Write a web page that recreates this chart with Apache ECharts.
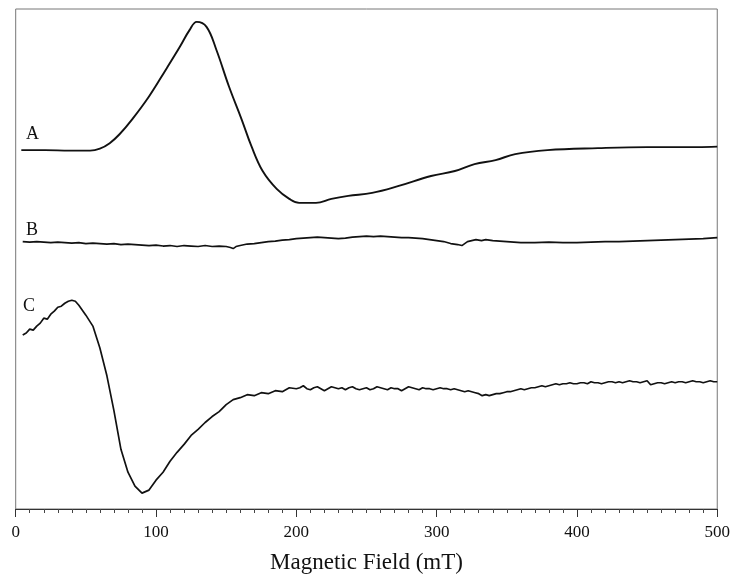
<!DOCTYPE html>
<html>
<head>
<meta charset="utf-8">
<script src="https://cdn.jsdelivr.net/npm/echarts@6/dist/echarts.min.js"></script>
<style>
  html, body { margin: 0; padding: 0; background: #fff; }
  #chart { width: 733px; height: 579px; }
</style>
</head>
<body>
<div id="chart"></div>
<script>
// magnetic field ticks (mT)
const fieldTicks = [0, 100, 200, 300, 400, 500];

// trace A
const aField = [4, 21, 38.5, 53, 60, 67, 74, 83, 95, 107, 117, 124, 129, 136, 143, 152, 161, 168, 176, 186,
  195, 202, 214, 225, 237, 254, 273, 296, 313, 327, 342, 356, 379, 415, 450, 486, 500];
const aSignal = [361, 361, 360.5, 360.5, 362.5, 368, 377, 392, 415, 442, 465, 482, 490, 485, 462, 425, 392, 365, 340, 322,
  312, 308, 308, 312, 315, 318, 325, 335, 340, 347, 351, 357, 361, 363, 364, 364, 364.5];

// trace B
const bField = [5, 10, 15, 20, 25, 30, 35, 40, 45, 50, 55, 60, 65, 70, 75, 80, 85, 90, 95, 100,
  105, 110, 115, 120, 125, 130, 135, 140, 145, 150, 153, 155, 157, 160, 165, 170, 175, 180, 185, 190,
  195, 200, 205, 210, 215, 220, 225, 230, 235, 240, 245, 250, 255, 260, 265, 270, 275, 280, 285, 290,
  295, 300, 305, 310, 315, 318, 320, 322, 325, 328, 332, 335, 340, 345, 350, 355, 360, 370, 380, 390,
  400, 410, 420, 430, 440, 450, 460, 470, 480, 490, 500];
const bSignal = [269, 268.5, 269, 268.5, 268, 268.5, 268, 267.5, 268, 267, 267.5, 267, 266.5, 267, 266, 266.5, 266, 265.5, 265, 265.5,
  264.5, 265, 264, 265, 264.5, 264, 265, 264, 264.5, 264, 263, 262, 264, 265, 266.5, 267, 268, 269, 269.5, 270.5,
  271, 272, 272.5, 273, 273.5, 273, 272.5, 272, 272.5, 273.5, 274, 274.5, 274, 274.5, 274, 273.5, 273, 273, 272.5, 272,
  271, 270, 269, 267, 266, 265, 267, 269, 270, 271, 270, 271, 270, 269.5, 269, 268.5, 268, 268, 268.5, 268,
  268, 268.5, 269, 269, 269.5, 270, 270.5, 271, 271.5, 272, 273];

// trace C
const cField = [5, 7.5, 10, 12.5, 15, 17.5, 20, 22.5, 25, 27.5, 30, 32.5, 35, 37.5, 40, 42.5, 45, 50, 55, 60,
  65, 70, 75, 80, 85, 90, 95, 100, 105, 110, 115, 120, 125, 130, 135, 140, 145, 150, 155, 160,
  165, 170, 175, 180, 185, 190, 195,
  200, 202.5, 205, 207.5, 210, 212.5, 215, 217.5, 220, 222.5, 225, 227.5, 230, 232.5, 235, 237.5, 240, 242.5, 245, 247.5,
  250, 252.5, 255, 257.5, 260, 262.5, 265, 267.5, 270, 272.5, 275, 277.5, 280, 282.5, 285, 287.5, 290, 292.5, 295, 297.5,
  300, 302.5, 305, 307.5, 310, 312.5, 315, 317.5, 320, 322.5, 325, 327.5, 330, 332.5, 335, 337.5, 340, 342.5, 345, 347.5,
  350, 352.5, 355, 357.5, 360, 362.5, 365, 367.5, 370, 372.5, 375, 377.5, 380, 382.5, 385, 387.5, 390, 392.5, 395, 397.5,
  400, 402.5, 405, 407.5, 410, 412.5, 415, 417.5, 420, 422.5, 425, 427.5, 430, 432.5, 435, 437.5, 440, 442.5, 445, 447.5,
  450, 452.5, 455, 457.5, 460, 462.5, 465, 467.5, 470, 472.5, 475, 477.5, 480, 482.5, 485, 487.5, 490, 492.5, 495, 497.5, 500];
const cSignal = [175, 177, 181, 180, 184, 187, 192, 191, 196, 199, 203, 204, 207, 209, 210, 209, 205, 195, 184, 162,
  134, 99, 60, 37, 23, 16, 19, 29, 37, 48, 57, 65, 74, 80, 87, 93, 98, 105, 110, 112,
  115, 114, 117, 116, 119, 118, 122,
  121, 122, 124, 121, 120, 122, 123, 121, 119, 121, 123, 122, 121, 122, 120, 122, 123, 121, 120, 121,
  122, 120, 121, 123, 122, 121, 120, 122, 121, 121, 119, 121, 123, 122, 121, 120, 122, 121, 121, 120,
  121, 122, 121, 121, 120, 121, 120, 119, 118, 119, 118, 117, 116, 114, 115, 114, 115, 116, 116, 117,
  118, 118, 119, 120, 121, 120, 121, 122, 122, 123, 124, 123, 124, 125, 126, 125, 126, 126, 127, 126,
  126, 127, 127, 126, 128, 127, 127, 126, 127, 128, 128, 127, 128, 127, 128, 129, 128, 128, 127, 128,
  129, 125, 126, 127, 127, 126, 127, 128, 127, 128, 128, 127, 128, 129, 128, 128, 127, 128, 129, 128, 128];

const pairs = (xs, ys) => xs.map((x, i) => [x, ys[i]]);

const chart = echarts.init(document.getElementById('chart'));
const serif = '"Liberation Serif", "DejaVu Serif", serif';

const lineSeries = (name, xs, ys, width, smooth) => ({
  name: name,
  type: 'line',
  data: pairs(xs, ys),
  showSymbol: false,
  smooth: smooth,
  lineStyle: { color: '#111', width: width },
  z: 3
});

chart.setOption({
  animation: false,
  backgroundColor: '#fff',
  grid: {
    left: 15.7, right: 12, top: 9, bottom: 67,
    show: true, borderColor: '#777', borderWidth: 1
  },
  xAxis: {
    type: 'value',
    min: fieldTicks[0],
    max: fieldTicks[fieldTicks.length - 1],
    interval: 100,
    name: 'Magnetic Field (mT)',
    nameLocation: 'middle',
    nameGap: 42,
    nameTextStyle: { fontFamily: serif, fontSize: 23, color: '#111' },
    axisLine: { lineStyle: { color: '#333', width: 1 } },
    axisTick: { length: 8, lineStyle: { color: '#333' } },
    minorTick: { show: true, splitNumber: 10, length: 4, lineStyle: { color: '#444' } },
    splitLine: { show: false },
    axisLabel: { fontFamily: serif, fontSize: 17, color: '#111', margin: 15 }
  },
  yAxis: {
    type: 'value',
    min: 0,
    max: 503,
    show: false,
    splitLine: { show: false }
  },
  series: [
    lineSeries('A', aField, aSignal, 1.9, 0.4),
    lineSeries('B', bField, bSignal, 1.6, false),
    lineSeries('C', cField, cSignal, 1.7, false)
  ],
  graphic: [
    { type: 'text', left: 26, top: 125, style: { text: 'A', font: '18px ' + serif, fill: '#111' } },
    { type: 'text', left: 26, top: 221, style: { text: 'B', font: '18px ' + serif, fill: '#111' } },
    { type: 'text', left: 23, top: 297, style: { text: 'C', font: '18px ' + serif, fill: '#111' } }
  ]
});
</script>
</body>
</html>
